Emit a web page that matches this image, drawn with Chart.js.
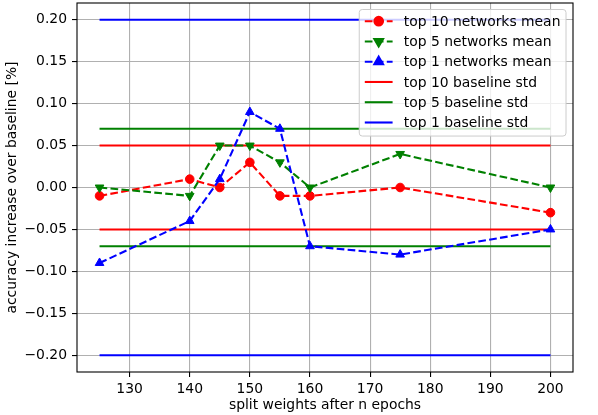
<!DOCTYPE html>
<html>
<head>
<meta charset="utf-8">
<script src="https://cdn.jsdelivr.net/npm/chart.js@4/dist/chart.umd.min.js"></script>
<style>
  body { margin: 0; background: #fff; }
  canvas { display: block; }
</style>
</head>
<body>
<canvas id="chart" width="598" height="415"></canvas>
<script>
// epochs after which the weights were split
const epochs = [125, 140, 145, 150, 155, 160, 175, 200];
// mean accuracy increase over baseline [%]
const top10Mean = [-0.01, 0.01, 0.00, 0.03, -0.01, -0.01, 0.00, -0.03];
const top5Mean = [0.00, -0.01, 0.05, 0.05, 0.03, 0.00, 0.04, 0.00];
const top1Mean = [-0.09, -0.04, 0.01, 0.09, 0.07, -0.07, -0.08, -0.05];
// baseline std (drawn as +/- lines)
const top10Std = 0.05;
const top5Std = 0.07;
const top1Std = 0.20;
const baselineRange = [125, 200];

const xTicks = [130, 140, 150, 160, 170, 180, 190, 200];
const yTicks = [-0.20, -0.15, -0.10, -0.05, 0.00, 0.05, 0.10, 0.15, 0.20];
const yTickLabels = ['\u22120.20', '\u22120.15', '\u22120.10', '\u22120.05', '0.00', '0.05', '0.10', '0.15', '0.20'];

const RED = '#ff0000', GREEN = '#008000', BLUE = '#0000ff';
const FONT = "'DejaVu Sans', sans-serif";
const FS = 13.9;
const LW = 2.1;
const DASH = [7.7, 3.3];

function points(ys) {
  return epochs.map((x, i) => ({x: x, y: ys[i]}));
}
function hline(v) {
  return baselineRange.map(x => ({x: x, y: v}));
}
function meanSet(label, ys, color, style, rotation, radius) {
  return {
    label: label, data: points(ys), borderColor: color, backgroundColor: color,
    borderWidth: LW, borderDash: DASH, pointStyle: style, pointRotation: rotation,
    pointRadius: radius, pointBorderWidth: 1, pointBorderColor: color,
    pointBackgroundColor: color, tension: 0
  };
}
function baseSet(label, v, color) {
  return {
    label: label, data: hline(v), borderColor: color, backgroundColor: color,
    borderWidth: LW, pointRadius: 0, tension: 0
  };
}

// first entries are drawn on top in Chart.js
const datasets = [
  meanSet('top 1 networks mean', top1Mean, BLUE, 'triangle', 0, 5),
  meanSet('top 5 networks mean', top5Mean, GREEN, 'triangle', 180, 5),
  meanSet('top 10 networks mean', top10Mean, RED, 'circle', 0, 4.3),
  baseSet('top 1 baseline std', top1Std, BLUE),
  baseSet('top 1 baseline std', -top1Std, BLUE),
  baseSet('top 5 baseline std', top5Std, GREEN),
  baseSet('top 5 baseline std', -top5Std, GREEN),
  baseSet('top 10 baseline std', top10Std, RED),
  baseSet('top 10 baseline std', -top10Std, RED)
];

const legendItems = [
  {text: 'top 10 networks mean', color: RED, dash: true, style: 'circle', rot: 0, r: 4.3},
  {text: 'top 5 networks mean', color: GREEN, dash: true, style: 'triangle', rot: 180, r: 5},
  {text: 'top 1 networks mean', color: BLUE, dash: true, style: 'triangle', rot: 0, r: 5},
  {text: 'top 10 baseline std', color: RED, dash: false},
  {text: 'top 5 baseline std', color: GREEN, dash: false},
  {text: 'top 1 baseline std', color: BLUE, dash: false}
];

// frame around the axes plus the matplotlib-like legend box
const framePlugin = {
  id: 'frame',
  afterDatasetsDraw(chart) {
    const a = chart.chartArea, ctx = chart.ctx;
    ctx.save();
    ctx.strokeStyle = '#000';
    ctx.lineWidth = 1.1;
    ctx.strokeRect(a.left, a.top, a.right - a.left, a.bottom - a.top);
    ctx.restore();
  },
  afterDraw(chart) {
    const a = chart.chartArea, ctx = chart.ctx;
    ctx.save();
    ctx.font = FS + 'px ' + FONT;
    let tw = 0;
    legendItems.forEach(it => { tw = Math.max(tw, ctx.measureText(it.text).width); });
    const pad = 0.4 * FS, hl = 2 * FS, htp = 0.8 * FS, rowH = 20.26;
    const w = pad * 2 + hl + htp + tw;
    const right = a.right - 7, top = a.top + 6.5;
    const left = right - w;
    const h = rowH * legendItems.length + 5;
    ctx.beginPath();
    ctx.roundRect(left, top, w, h, 3);
    ctx.fillStyle = 'rgba(255,255,255,0.8)';
    ctx.fill();
    ctx.strokeStyle = '#cccccc';
    ctx.lineWidth = 1;
    ctx.stroke();
    legendItems.forEach((it, i) => {
      const y = top + 11.7 + i * rowH;
      const x0 = left + pad;
      ctx.strokeStyle = it.color;
      ctx.fillStyle = it.color;
      ctx.lineWidth = LW;
      ctx.setLineDash(it.dash ? DASH : []);
      ctx.beginPath();
      ctx.moveTo(x0, y);
      ctx.lineTo(x0 + hl, y);
      ctx.stroke();
      ctx.setLineDash([]);
      if (it.style) {
        Chart.helpers.drawPoint(ctx, {pointStyle: it.style, radius: it.r, rotation: it.rot, borderWidth: 1}, x0 + hl / 2, y);
      }
      ctx.fillStyle = '#000';
      ctx.textBaseline = 'middle';
      ctx.textAlign = 'left';
      ctx.fillText(it.text, x0 + hl + htp, y + 1);
    });
    ctx.restore();
  }
};

new Chart(document.getElementById('chart'), {
  type: 'line',
  data: {datasets: datasets},
  plugins: [framePlugin],
  options: {
    responsive: false,
    animation: false,
    devicePixelRatio: 1,
    layout: {autoPadding: false, padding: {left: 0, right: 25, top: 3, bottom: 0}},
    plugins: {legend: {display: false}, tooltip: {enabled: false}},
    scales: {
      x: {
        type: 'linear', min: 121.25, max: 203.75,
        afterBuildTicks: s => { s.ticks = xTicks.map(v => ({value: v})); },
        afterFit: s => { s.height = 43; s.paddingLeft = 0; s.paddingRight = 0; },
        grid: {color: '#b0b0b0', lineWidth: 1.1, tickColor: '#000', tickLength: 5},
        border: {display: false},
        ticks: {color: '#000', font: {family: FONT, size: FS}, padding: 4, maxRotation: 0,
          callback: v => String(v)},
        title: {display: true, text: 'split weights after n epochs', color: '#000',
          font: {family: FONT, size: FS}, padding: {top: 0, bottom: 1}}
      },
      y: {
        type: 'linear', min: -0.22, max: 0.22,
        afterBuildTicks: s => { s.ticks = yTicks.map(v => ({value: v})); },
        afterFit: s => { s.width = 77; s.paddingTop = 0; s.paddingBottom = 0; },
        grid: {color: '#b0b0b0', lineWidth: 1.1, tickColor: '#000', tickLength: 5},
        border: {display: false},
        ticks: {color: '#000', font: {family: FONT, size: FS}, padding: 5,
          callback: (v, i) => yTickLabels[i]},
        title: {display: true, text: 'accuracy increase over baseline [%]', color: '#000',
          font: {family: FONT, size: FS}, padding: {top: 4.5, bottom: 0}}
      }
    }
  }
});
</script>
</body>
</html>
